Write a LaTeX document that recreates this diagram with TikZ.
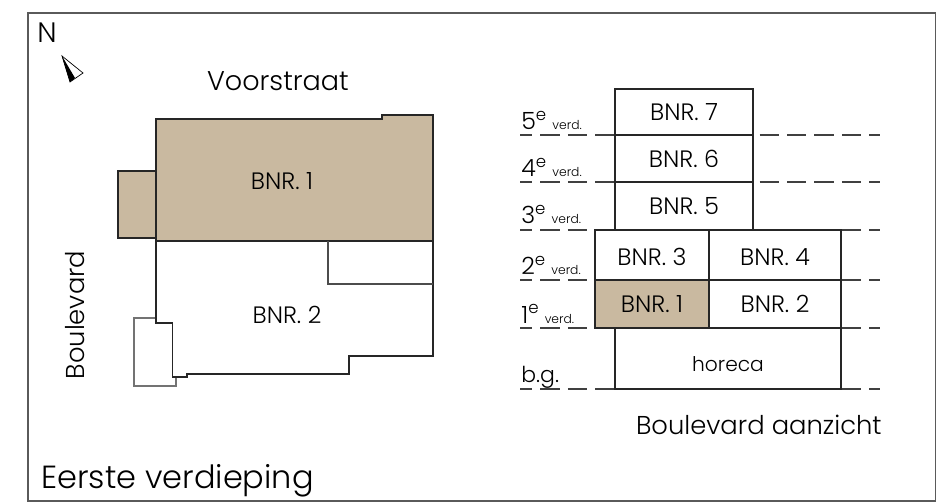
\documentclass[tikz,border=0pt]{standalone}
\usepackage{fontspec}
\setmainfont{Poppins Light}
\usetikzlibrary{shapes}
\definecolor{beige}{HTML}{C9B9A0}
\definecolor{framegray}{HTML}{5A5A5A}
\tikzset{
	floorbox/.style={rectangle,draw=black!85,line width=0.9pt,inner sep=0pt,outer sep=0pt,text height=10.2pt,text depth=0pt,font=\fontsize{13.5}{13.5}\selectfont},
	floorline/.style={draw=black!75,line width=0.6pt,dash pattern=on 11pt off 4.6pt,dash phase=4pt},
	planline/.style={draw=black!85,line width=0.9pt},
	label/.style={inner sep=0pt,font=\fontsize{13.5}{13.5}\selectfont},
	biglabel/.style={inner sep=0pt,font=\fontsize{14.7}{14.7}\selectfont},
}
\newcommand{\verd}[1]{#1\textsuperscript{e}\hspace{3pt}{\fontsize{7}{7}\selectfont verd.}}

\begin{document}
\begin{tikzpicture}[x=0.02cm,y=-0.02cm]
	\useasboundingbox (0,0) rectangle (936,503);
	\draw[framegray,line width=0.8pt] (28,13) rectangle (936,501);

	% plan
	\draw[planline,fill=beige] (156,171) -- (118,171) -- (118,238) -- (156,238);
	\draw[planline,fill=beige] (156,119) -- (382,119) -- (382,115) -- (433,115) -- (433,241) -- (156,241) -- cycle;
	\draw[black!55,line width=0.6pt] (156,318) -- (134,318) -- (134,386) -- (176,386) -- (176,377);
	\draw[planline] (156,241) -- (156,323) -- (172.5,323) -- (172.5,377) -- (187,377) -- (187,374) -- (349,374) -- (349,356) -- (433,356) -- (433,241);
	\draw[black!70,line width=0.7pt] (328,241) -- (328,284) -- (433,284);

	\node[label] (bnr1plan) at (282,181) {BNR. 1};
	\node[label] (bnr2plan) at (287,315) {BNR. 2};
	\node[biglabel,font=\fontsize{15.4}{15.4}\selectfont] (voorstraat) at (278,81) {Voorstraat};
	\node[biglabel,rotate=90] (boulevard) at (75,315) {Boulevard};

	% north
	\node[label,font=\fontsize{16}{16}\selectfont] (north) at (47,33) {N};
	\draw[black,line width=0.4pt,fill=white] (62,56) -- (83,73) -- (70,82) -- cycle;
	\fill[black] (62,56) -- (75,78) -- (70,82) -- cycle;

	% floors
	\coordinate (l5) at (520,135); \coordinate (r5) at (880,135);
	\coordinate (l4) at (520,182); \coordinate (r4) at (880,182);
	\coordinate (l3) at (520,230); \coordinate (r3) at (880,230);
	\coordinate (l2) at (520,280); \coordinate (r2) at (880,280);
	\coordinate (l1) at (520,328); \coordinate (r1) at (880,328);
	\coordinate (l0) at (520,389); \coordinate (r0) at (880,389);
	\foreach \i in {0,...,5} {
		\path[floorline] (l\i) -- (r\i);
	}

	\node[floorbox,fill=white,minimum width=2.76cm,minimum height=0.92cm] (bnr7) at (684,112) {BNR. 7};
	\node[floorbox,fill=white,minimum width=2.76cm,minimum height=0.94cm] (bnr6) at (684,158.5) {BNR. 6};
	\node[floorbox,fill=white,minimum width=2.76cm,minimum height=0.96cm] (bnr5) at (684,206) {BNR. 5};
	\node[floorbox,fill=white,minimum width=2.28cm,minimum height=1cm,text height=11.4pt] (bnr3) at (652,255) {BNR. 3};
	\node[floorbox,fill=white,minimum width=2.64cm,minimum height=1cm,text height=11.4pt] (bnr4) at (775,255) {BNR. 4};
	\node[floorbox,fill=beige,minimum width=2.28cm,minimum height=0.96cm] (bnr1) at (652,304) {BNR. 1};
	\node[floorbox,fill=white,minimum width=2.64cm,minimum height=0.96cm] (bnr2) at (775,304) {BNR. 2};
	\node[floorbox,fill=white,minimum width=4.52cm,minimum height=1.22cm,text height=14.8pt,font=\fontsize{11.5}{11.5}\selectfont] (horeca) at (728,358.5) {horeca};

	\node[label,anchor=base west] (v5) at (521,130) {\verd{5}};
	\node[label,anchor=base west] (v4) at (521,177) {\verd{4}};
	\node[label,anchor=base west] (v3) at (521,224) {\verd{3}};
	\node[label,anchor=base west] (v2) at (521,275) {\verd{2}};
	\node[label,anchor=base west] (v1) at (521,323) {\verd{1}};
	\node[label,anchor=base west,font=\fontsize{12.5}{12.5}\selectfont] (v0) at (521,382) {b.g.};

	\node[biglabel,anchor=base east] (aanzicht) at (882,434) {Boulevard aanzicht};
	\node[biglabel,anchor=base west,font=\fontsize{18.2}{18.2}\selectfont] (title) at (41,488) {Eerste verdieping};
\end{tikzpicture}
\end{document}
